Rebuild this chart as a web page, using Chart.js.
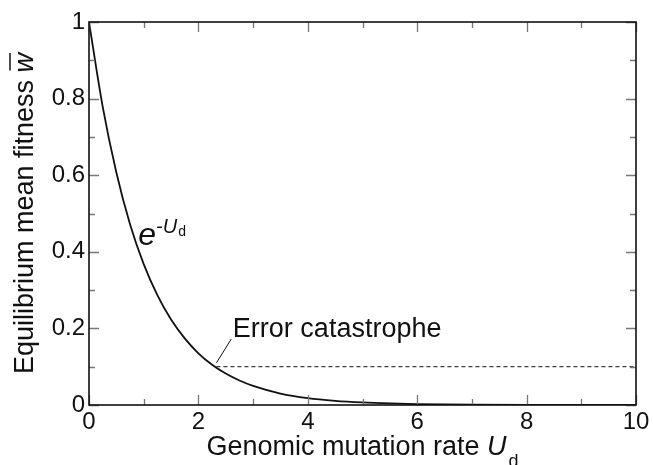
<!DOCTYPE html>
<html lang="en">
<head>
    <meta charset="UTF-8">
    <title>Equilibrium mean fitness</title>
    <script src="https://cdn.jsdelivr.net/npm/chart.js"></script>
    <style>
        html, body {
            margin: 0;
            padding: 0;
            background: #ffffff;
        }
        #wrap {
            width: 653px;
            height: 465px;
        }
    </style>
</head>
<body>
    <div id="wrap"><canvas id="fitnessChart" width="653" height="465"></canvas></div>

    <script>
        // values
        const mutationRate = [0, 0.25, 0.5, 0.75, 1, 1.25, 1.5, 1.75, 2, 2.25, 2.5, 2.75, 3, 3.5, 4, 4.5, 5, 5.5, 6, 7, 8, 9, 10];
        const meanFitness = [1, 0.779, 0.607, 0.472, 0.368, 0.287, 0.223, 0.174, 0.135, 0.105, 0.082, 0.064, 0.05, 0.03, 0.018, 0.011, 0.0067, 0.0041, 0.0025, 0.0009, 0.0003, 0.0001, 0];

        // dashed "error catastrophe" threshold
        const thresholdX = [2.33, 10];
        const thresholdY = [0.1, 0.1];

        const xTickLabels = ["0", "2", "4", "6", "8", "10"];
        const yTickLabels = ["0", "0.2", "0.4", "0.6", "0.8", "1"];

        const FONT = "'Liberation Sans', Arial, Helvetica, sans-serif";

        const curveData = mutationRate.map((x, i) => ({ x: x, y: meanFitness[i] }));
        const thresholdData = thresholdX.map((x, i) => ({ x: x, y: thresholdY[i] }));

        // draws the inward ticks, frame, axis titles and text labels
        const decorPlugin = {
            id: "decor",
            afterDraw(chart) {
                const ctx = chart.ctx;
                const a = chart.chartArea;
                const xs = chart.scales.x;
                const ys = chart.scales.y;
                ctx.save();

                // inward ticks on all four sides
                ctx.strokeStyle = "#777";
                ctx.lineWidth = 1.3;
                ctx.beginPath();
                for (let i = 0; i <= 10; i++) {
                    const len = i % 2 === 0 ? 10 : 6;
                    const px = Math.round(xs.getPixelForValue(i)) + 0.5;
                    ctx.moveTo(px, a.bottom); ctx.lineTo(px, a.bottom - len);
                    ctx.moveTo(px, a.top); ctx.lineTo(px, a.top + len);
                }
                for (let i = 0; i <= 10; i++) {
                    const len = i % 2 === 0 ? 10 : 6;
                    const py = Math.round(ys.getPixelForValue(i / 10)) + 0.5;
                    ctx.moveTo(a.left, py); ctx.lineTo(a.left + len, py);
                    ctx.moveTo(a.right, py); ctx.lineTo(a.right - len, py);
                }
                ctx.stroke();

                // frame
                ctx.strokeStyle = "#111";
                ctx.lineWidth = 1.6;
                ctx.strokeRect(a.left, a.top, a.right - a.left, a.bottom - a.top);

                ctx.fillStyle = "#111";
                ctx.textBaseline = "alphabetic";
                ctx.textAlign = "left";

                // x axis title: Genomic mutation rate U_d
                const xMain = "Genomic mutation rate ";
                ctx.font = "27px " + FONT;
                const w1 = ctx.measureText(xMain).width;
                ctx.font = "italic 27px " + FONT;
                const w2 = ctx.measureText("U").width;
                ctx.font = "18px " + FONT;
                const w3 = ctx.measureText("d").width;
                let tx = (a.left + a.right) / 2 - (w1 + w2 + w3 + 2) / 2;
                const tyBase = 455;
                ctx.font = "27px " + FONT;
                ctx.fillText(xMain, tx, tyBase);
                ctx.font = "italic 27px " + FONT;
                ctx.fillText("U", tx + w1, tyBase);
                ctx.font = "18px " + FONT;
                ctx.fillText("d", tx + w1 + w2 + 2, tyBase + 12);

                // y axis title: Equilibrium mean fitness w-bar
                const yMain = "Equilibrium mean fitness ";
                ctx.save();
                ctx.translate(33, (a.top + a.bottom) / 2);
                ctx.rotate(-Math.PI / 2);
                ctx.font = "27px " + FONT;
                const v1 = ctx.measureText(yMain).width;
                ctx.font = "italic 27px " + FONT;
                const v2 = ctx.measureText("w").width;
                const sx = -(v1 + v2) / 2;
                ctx.font = "27px " + FONT;
                ctx.fillText(yMain, sx, 0);
                ctx.font = "italic 27px " + FONT;
                ctx.fillText("w", sx + v1, 0);
                ctx.beginPath();
                ctx.lineWidth = 1.5;
                ctx.moveTo(sx + v1 + 2, -23);
                ctx.lineTo(sx + v1 + v2, -23);
                ctx.stroke();
                ctx.restore();

                // curve label e^{-U_d}
                const ex = xs.getPixelForValue(0.9);
                const ey = ys.getPixelForValue(0.418);
                ctx.font = "italic 32px " + FONT;
                ctx.fillText("e", ex, ey);
                const ew = ctx.measureText("e").width;
                ctx.font = "italic 20px " + FONT;
                ctx.fillText("-U", ex + ew, ey - 12);
                const uw = ctx.measureText("-U").width;
                ctx.font = "14px " + FONT;
                ctx.fillText("d", ex + ew + uw + 1, ey - 9);

                // error catastrophe label with leader line
                ctx.strokeStyle = "#111";
                ctx.lineWidth = 1;
                ctx.beginPath();
                ctx.moveTo(xs.getPixelForValue(2.33), ys.getPixelForValue(0.11));
                ctx.lineTo(xs.getPixelForValue(2.6), ys.getPixelForValue(0.172));
                ctx.stroke();
                ctx.font = "27px " + FONT;
                ctx.fillText("Error catastrophe", xs.getPixelForValue(2.63), ys.getPixelForValue(0.178));

                ctx.restore();
            }
        };

        const ctx = document.getElementById("fitnessChart").getContext("2d");
        new Chart(ctx, {
            type: "line",
            data: {
                datasets: [
                    {
                        label: "e^-Ud",
                        data: curveData,
                        borderColor: "#111",
                        borderWidth: 1.8,
                        pointRadius: 0,
                        fill: false,
                        cubicInterpolationMode: "monotone"
                    },
                    {
                        label: "Error catastrophe",
                        data: thresholdData,
                        borderColor: "#111",
                        borderWidth: 1,
                        borderDash: [4, 3],
                        pointRadius: 0,
                        fill: false
                    }
                ]
            },
            options: {
                responsive: false,
                animation: false,
                layout: {
                    padding: { left: 0, right: 17, top: 22, bottom: 0 }
                },
                plugins: {
                    legend: { display: false },
                    tooltip: { enabled: false }
                },
                scales: {
                    x: {
                        type: "linear",
                        min: 0,
                        max: 10,
                        afterFit: function (scale) { scale.height = 60; },
                        grid: { display: false, drawTicks: false },
                        border: { display: false },
                        ticks: {
                            stepSize: 2,
                            padding: 3,
                            color: "#111",
                            font: { family: FONT, size: 24 },
                            maxRotation: 0,
                            callback: function (value) {
                                const i = Math.round(value / 2);
                                return Math.abs(value - i * 2) < 1e-6 ? xTickLabels[i] : "";
                            }
                        }
                    },
                    y: {
                        min: 0,
                        max: 1,
                        afterFit: function (scale) { scale.width = 89; },
                        grid: { display: false, drawTicks: false },
                        border: { display: false },
                        ticks: {
                            stepSize: 0.2,
                            padding: 4,
                            color: "#111",
                            font: { family: FONT, size: 24 },
                            callback: function (value) {
                                const i = Math.round(value / 0.2);
                                return Math.abs(value - i * 0.2) < 1e-6 ? yTickLabels[i] : "";
                            }
                        }
                    }
                }
            },
            plugins: [decorPlugin]
        });
    </script>
</body>
</html>
